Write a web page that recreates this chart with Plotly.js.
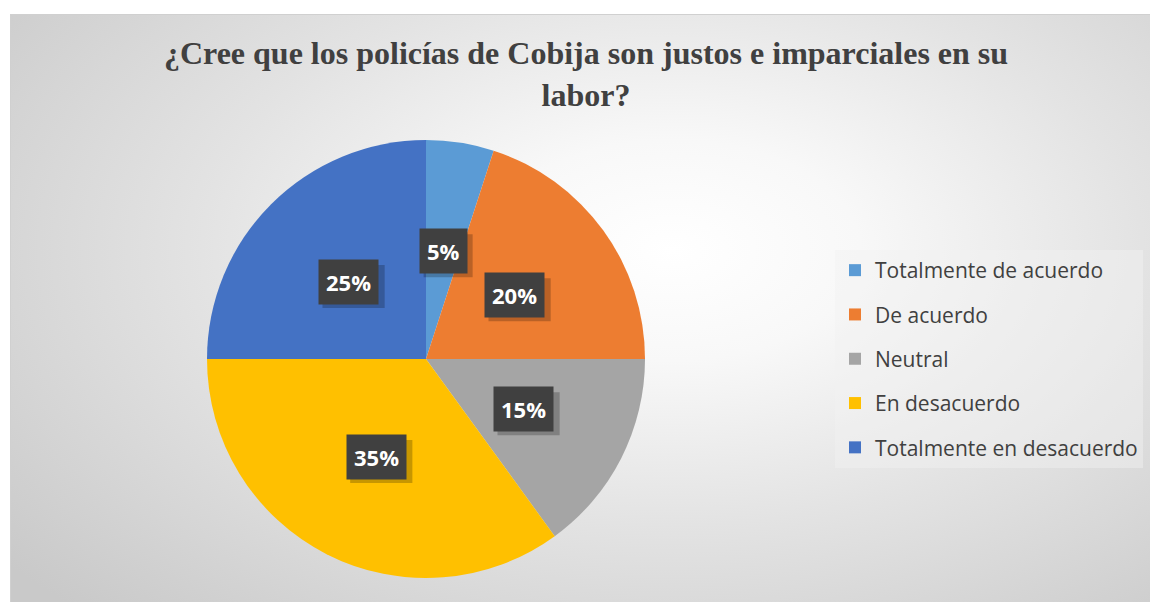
<!DOCTYPE html>
<html>
<head>
<meta charset="utf-8">
<script src="https://cdn.plot.ly/plotly-3.0.1.min.js"></script>
<style>
  html, body { margin:0; padding:0; background:#ffffff; }
  #wrap { position:relative; width:1150px; height:602px; overflow:hidden; }
  #bg { position:absolute; left:10px; top:14px; width:1140px; height:588px;
        border-top:1px solid #d0d0d0; border-left:1px solid #d0d0d0;
        background: radial-gradient(ellipse 75% 85% at 58% 40%, #ffffff 0%, #f8f8f8 22%, #e3e3e3 55%, #c9c9c9 100%); }
  #chart { position:absolute; left:0; top:0; width:1150px; height:602px; }
</style>
</head>
<body>
<div id="wrap">
  <div id="bg"></div>
  <div id="chart"></div>
</div>
<script>
const titleText = "¿Cree que los policías de Cobija son justos e imparciales en su<br>labor?";
const categories = ["Totalmente de acuerdo", "De acuerdo", "Neutral", "En desacuerdo", "Totalmente en desacuerdo"];
const values = [5, 20, 15, 35, 25];
const labelsText = ["5%", "20%", "15%", "35%", "25%"];
const colors = ["#5B9BD5", "#ED7D31", "#A5A5A5", "#FFC000", "#4472C4"];

const W = 1150, H = 602;
const domX = [207 / W, 645 / W];
const domY = [(H - 578) / H, (H - 140) / H];

const pie = {
  type: "pie",
  labels: categories,
  values: values,
  sort: false,
  direction: "clockwise",
  rotation: 0,
  marker: { colors: colors, line: { width: 0 } },
  textinfo: "none",
  hoverinfo: "label+percent",
  showlegend: false,
  domain: { x: domX, y: domY }
};

// legend entries as marker-only traces (one group each so the gap matches)
const legendTraces = categories.map((c, i) => ({
  type: "scatter",
  mode: "markers",
  x: [null], y: [null],
  name: c,
  legendgroup: "g" + i,
  marker: { symbol: "square", size: 12, color: colors[i] },
  hoverinfo: "skip",
  showlegend: true
}));

// label positions from pie geometry
const wPx = (domX[1] - domX[0]) * W, hPx = (domY[1] - domY[0]) * H;
const R = Math.min(wPx, hPx) / 2;
const cx = (domX[0] + domX[1]) / 2, cy = (domY[0] + domY[1]) / 2;
const total = values.reduce((a, b) => a + b, 0);
const annotations = [];
const shapes = [];
const FS = 22;
let cum = 0;
values.forEach((v, i) => {
  const mid = (cum + v / 2) / total * 2 * Math.PI;
  cum += v;
  const ax = cx + 0.5 * R * Math.sin(mid) / W;
  const ay = cy + 0.5 * R * Math.cos(mid) / H;
  // drop shadow box (pixel-sized, anchored at the label position)
  const txt = labelsText[i];
  const bw = (txt.length - 1) * 0.6 * FS + 0.9 * FS + 16;
  const bh = 43;
  shapes.push({
    type: "rect", layer: "above",
    xref: "paper", yref: "paper",
    xsizemode: "pixel", ysizemode: "pixel",
    xanchor: ax, yanchor: ay,
    x0: -bw / 2 + 5, x1: bw / 2 + 5,
    y0: -bh / 2 - 5, y1: bh / 2 - 5,
    fillcolor: "rgba(0,0,0,0.22)", line: { width: 0 }
  });
  annotations.push({
    xref: "paper", yref: "paper", x: ax, y: ay, xanchor: "center", yanchor: "middle",
    text: "<b>" + txt + "</b>", showarrow: false,
    font: { family: "Open Sans", size: FS, color: "#ffffff" },
    bgcolor: "#404040", borderpad: 7
  });
});

const layout = {
  width: W, height: H,
  margin: { l: 0, r: 0, t: 0, b: 0 },
  paper_bgcolor: "rgba(0,0,0,0)",
  plot_bgcolor: "rgba(0,0,0,0)",
  title: {
    text: "<b>" + titleText + "</b>",
    font: { family: "Liberation Serif", size: 32, color: "#404040" },
    x: 586 / W, xanchor: "center", xref: "paper",
    y: 1 - 64 / H, yanchor: "top", yref: "paper"
  },
  xaxis: { visible: false, domain: [0.99, 1] },
  yaxis: { visible: false, domain: [0.99, 1] },
  showlegend: true,
  legend: {
    x: 835 / W, xanchor: "left",
    y: 1 - 250 / H, yanchor: "top",
    traceorder: "grouped",
    tracegroupgap: 14,
    bgcolor: "rgba(242,242,242,0.45)",
    font: { family: "Open Sans", size: 21, color: "#404040" },
    itemwidth: 30
  },
  shapes: shapes,
  annotations: annotations
};

Plotly.newPlot("chart", [pie].concat(legendTraces), layout, { displayModeBar: false, staticPlot: true });
</script>
</body>
</html>
